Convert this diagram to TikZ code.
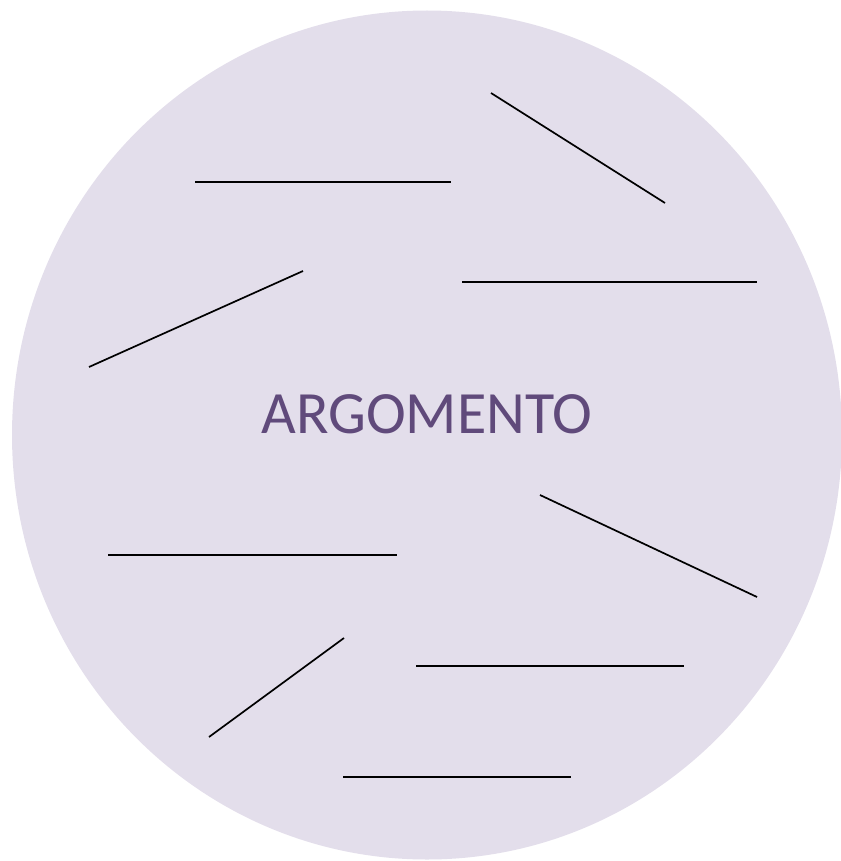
\documentclass[tikz,border=0pt]{standalone}
\usepackage{fontspec}
\setmainfont{Carlito}
\usetikzlibrary{positioning}
\definecolor{argfill}{RGB}{227, 222, 235}
\definecolor{argtext}{RGB}{96, 74, 123}

\begin{document}
\begin{tikzpicture}[x=1pt, y=-1pt, blank/.style={line width=1.7pt, black}]
  \useasboundingbox (0,0) rectangle (840,861);
  \fill[argfill] (427,435) ellipse [x radius=415, y radius=424.5];
  \node[argtext, anchor=base, inner sep=0pt, font=\fontsize{60}{72}\selectfont] (topic) at (427,433) {ARGOMENTO};
  % righe da compilare
  \foreach \xa/\ya/\xb/\yb in {491/93/665/203, 195/182/451/182, 462/282/757/282,
      303/271/89/367, 540/495/757/597, 108/555/397/555, 344/638/209/737,
      416/666/684/666, 343/777/571/777}
    \draw[blank] (\xa,\ya) -- (\xb,\yb);
\end{tikzpicture}
\end{document}
